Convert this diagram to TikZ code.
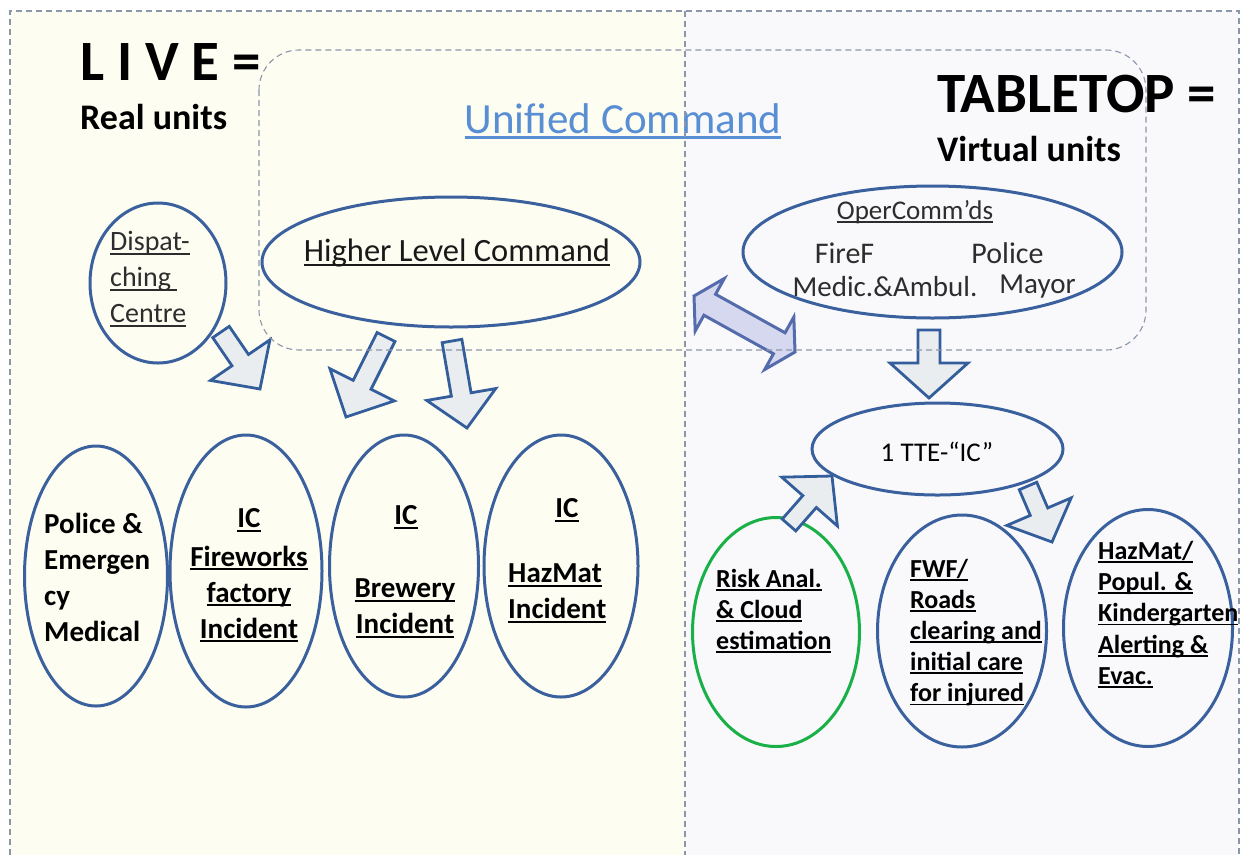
\documentclass[tikz,border=0pt]{standalone}
\usepackage{fontspec}
\setmainfont{Carlito}
\usetikzlibrary{calc,shapes.geometric}

\definecolor{ovalblue}{RGB}{58,96,158}
\definecolor{arrowblue}{RGB}{52,94,155}
\definecolor{arrowfill}{RGB}{234,237,240}
\definecolor{riskgreen}{RGB}{25,176,72}
\definecolor{dblfill}{RGB}{214,216,240}
\definecolor{dblline}{RGB}{84,108,172}
\definecolor{leftbg}{RGB}{253,253,241}
\definecolor{rightbg}{RGB}{249,249,251}
\definecolor{framegray}{RGB}{140,150,170}
\definecolor{ucblue}{RGB}{88,142,212}
\definecolor{darktext}{RGB}{45,45,45}

% underline drawn as a rule under the text box
\newcommand{\ulx}[1]{\setbox0\hbox{#1}\leavevmode\rlap{\rule[-0.14em]{\wd0}{0.07em}}\box0}

% block arrow: [style]{tail}{tip}{shaft half-width}{head half-width}{head length}
\newcommand{\blockarrow}[6][]{%
  \coordinate (ba-b) at ($(#3)!#6!(#2)$);
  \draw[#1] ($(#2)!#4!90:(#3)$) -- ($(ba-b)!#4!-90:(#2)$) -- ($(ba-b)!#5!-90:(#2)$)
    -- (#3) -- ($(ba-b)!#5!90:(#2)$) -- ($(ba-b)!#4!90:(#2)$) -- ($(#2)!#4!-90:(#3)$) -- cycle;
}
% two-headed block arrow: [style]{left tip}{right tip}{shaft half-width}{head half-width}{head length}
\newcommand{\doublearrow}[6][]{%
  \coordinate (da-l) at ($(#2)!#6!(#3)$);
  \coordinate (da-r) at ($(#3)!#6!(#2)$);
  \draw[#1] (#2) -- ($(da-l)!#5!90:(#3)$) -- ($(da-l)!#4!90:(#3)$) -- ($(da-r)!#4!-90:(#2)$)
    -- ($(da-r)!#5!-90:(#2)$) -- (#3) -- ($(da-r)!#5!90:(#2)$) -- ($(da-r)!#4!90:(#2)$)
    -- ($(da-l)!#4!-90:(#3)$) -- ($(da-l)!#5!-90:(#3)$) -- cycle;
}

\tikzset{
  oval/.style={ellipse, draw=ovalblue, line width=3pt, inner sep=0pt},
  greenoval/.style={oval, draw=riskgreen},
  blockarr/.style={draw=arrowblue, fill=arrowfill, line width=2.8pt, line join=miter},
  dblarr/.style={draw=dblline, fill=dblfill, line width=3pt, line join=miter},
  frameline/.style={draw=framegray, line width=1.1pt, dash pattern=on 6pt off 4pt},
  bigtxt/.style={inner sep=0pt, font=\fontsize{29}{36}\selectfont\bfseries},
  smalltxt/.style={inner sep=0pt, font=\fontsize{26}{31.2}\selectfont\bfseries},
  cmdtxt/.style={inner sep=0pt, text=darktext, font=\fontsize{29}{32}\selectfont},
  cmdbig/.style={cmdtxt, font=\fontsize{30}{32}\selectfont},
}

\begin{document}
\begin{tikzpicture}[x=1pt,y=-1pt]
\useasboundingbox (0,0) rectangle (1247,855);
\fill[white] (0,0) rectangle (1247,855);

% the two panels
\fill[leftbg] (10,11) rectangle (685,855);
\fill[rightbg] (685,11) rectangle (1239,855);

% titles
\node[anchor=base west, inner sep=0pt, font=\fontsize{57}{60}\selectfont\bfseries] (live) at (80,80) {L I V E =};
\node[anchor=base west, inner sep=0pt, font=\fontsize{36}{40}\selectfont\bfseries] (real) at (80,129) {Real units};
\node[anchor=base west, inner sep=0pt, font=\fontsize{57}{60}\selectfont\bfseries] (tabletop) at (937,112) {TABLETOP =};
\node[anchor=base west, inner sep=0pt, font=\fontsize{36}{40}\selectfont\bfseries] (virtual) at (937,161) {Virtual units};
\node[anchor=base, inner sep=0pt, text=ucblue, font=\fontsize{43}{46}\selectfont] (uclabel) at (623,133) {\ulx{Unified Command}};

% command level
\node[oval, minimum width=136pt, minimum height=160pt] (disp) at (158,283) {};
\node[anchor=west, align=left, inner sep=0pt, text=darktext, font=\fontsize{28}{36}\selectfont] (disptxt) at (110,279) {\ulx{Dispat-}\\\ulx{ching\ }\\\ulx{Centre}};
\node[oval, minimum width=378pt, minimum height=130pt] (hlc) at (451,262) {};
\node[inner sep=0pt, text=black!90, font=\fontsize{32.5}{34}\selectfont] (hlctxt) at (457,253) {\ulx{Higher Level Command}};

\node[oval, minimum width=379pt, minimum height=132pt] (oper) at (932.5,252) {};
\node[inner sep=0pt, text=darktext, font=\fontsize{27}{28}\selectfont] (opertitle) at (915,212) {\ulx{OperComm’ds}};
\node[cmdbig] (firef) at (844.5,253) {FireF};
\node[cmdbig] (policeop) at (1007.5,253) {Police};
\node[cmdtxt] (medic) at (885,287) {Medic.\&Ambul.};
\node[cmdtxt] (mayor) at (1037.5,287) {Mayor};

\node[oval, minimum width=251pt, minimum height=92pt] (tte) at (937.5,449) {};
\node[inner sep=0pt, font=\fontsize{27}{30}\selectfont] (ttetxt) at (937,452) {1 TTE-“IC”};

% live units
\node[oval, minimum width=143pt, minimum height=260pt] (police) at (96,576) {};
\node[bigtxt, anchor=west, align=left] (policetxt) at (44,577) {Police \&\\Emergen\\cy\\Medical};
\node[oval, minimum width=152pt, minimum height=272pt] (fire) at (246,571) {};
\node[bigtxt] (ic1) at (249,520) {\ulx{IC}};
\node[bigtxt, align=center] (firetxt) at (249,594) {\ulx{Fireworks}\\\ulx{factory}\\\ulx{Incident}};
\node[oval, minimum width=149pt, minimum height=262pt] (brew) at (404,566) {};
\node[bigtxt] (ic2) at (406,517) {\ulx{IC}};
\node[bigtxt, align=center] (brewtxt) at (405,608.5) {\ulx{Brewery}\\\ulx{Incident}};
\node[oval, minimum width=154pt, minimum height=262pt] (hazlive) at (561,566) {};
\node[bigtxt] (ic3) at (567,510) {\ulx{IC}};
\node[bigtxt, anchor=west, align=left] (hazlivetxt) at (508,593.5) {\ulx{HazMat}\\\ulx{Incident}};

% virtual units
\node[greenoval, minimum width=167pt, minimum height=229pt] (risk) at (776,632) {};
\node[smalltxt, anchor=west, align=left] (risktxt) at (716,611) {\ulx{Risk Anal.}\\\ulx{\& Cloud}\\\ulx{estimation}};
\node[oval, minimum width=169pt, minimum height=232pt] (fwf) at (962,631) {};
\node[smalltxt, anchor=west, align=left] (fwftxt) at (910,632.5) {\ulx{FWF/}\\\ulx{Roads}\\\ulx{clearing and}\\\ulx{initial care}\\\ulx{for injured}};
\node[oval, minimum width=169pt, minimum height=237pt] (hazvirt) at (1148,628) {};
\node[smalltxt, anchor=west, align=left] (hazvirttxt) at (1098,614.5) {\ulx{HazMat/}\\\ulx{Popul. \&}\\\ulx{Kindergarten}\\\ulx{Alerting \&}\\\ulx{Evac.}};

% block arrows
\coordinate (a1t) at (221,332); \coordinate (a1h) at (260,389);
\blockarrow[blockarr]{a1t}{a1h}{10pt}{36pt}{35pt}
\coordinate (a2t) at (386,337); \coordinate (a2h) at (346,417);
\blockarrow[blockarr]{a2t}{a2h}{10pt}{36pt}{36pt}
\coordinate (a3t) at (452,341); \coordinate (a3h) at (467,428);
\blockarrow[blockarr]{a3t}{a3h}{10pt}{35pt}{34pt}
\coordinate (a4t) at (929,330); \coordinate (a4h) at (929,398);
\blockarrow[blockarr]{a4t}{a4h}{11pt}{39pt}{35pt}
\coordinate (a5t) at (789,525); \coordinate (a5h) at (832,476);
\blockarrow[blockarr]{a5t}{a5h}{9pt}{37pt}{34pt}
\coordinate (a6t) at (1028,486); \coordinate (a6h) at (1052,542);
\blockarrow[blockarr]{a6t}{a6h}{9.5pt}{35pt}{33pt}
\coordinate (dl) at (694,296); \coordinate (dr) at (795,352);
\doublearrow[dblarr]{dl}{dr}{12pt}{30pt}{18pt}

% frames
\draw[frameline, rounded corners=40pt] (259,50) rectangle (1146,350);
\draw[frameline] (10,855) -- (10,11) -- (1239,11) -- (1239,855);
\draw[frameline] (685,11) -- (685,855);
\end{tikzpicture}
\end{document}
